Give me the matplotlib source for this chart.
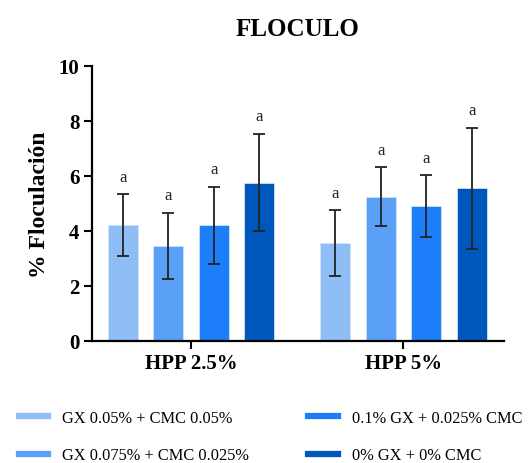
import matplotlib
matplotlib.use("Agg")
import matplotlib.pyplot as plt
from matplotlib.lines import Line2D
import numpy as np

plt.rcParams['font.family'] = ['Liberation Serif', 'DejaVu Serif']

groups = ["HPP 2.5%", "HPP 5%"]
series = ["GX 0.05% + CMC 0.05%", "GX 0.075% + CMC 0.025%",
          "0.1% GX + 0.025% CMC", "0% GX + 0% CMC"]
colors = ["#8fbdf5", "#5aa0f6", "#1c7ef8", "#0057bb"]
means = [[4.2, 3.45, 4.2, 5.75],
         [3.55, 5.25, 4.9, 5.55]]
errs = [[1.13, 1.2, 1.4, 1.77],
        [1.2, 1.06, 1.12, 2.2]]
letters = [["a", "a", "a", "a"], ["a", "a", "a", "a"]]

fig = plt.figure(figsize=(5.31, 4.64), dpi=100)
ax = fig.add_axes([0.173, 0.263, 0.776, 0.593])

spacing = 0.214
width = 0.142
x = np.arange(len(groups))
for i in range(len(series)):
    off = (i - 1.5) * spacing
    vals = [means[g][i] for g in range(len(groups))]
    er = [errs[g][i] for g in range(len(groups))]
    ax.bar(x + off, vals, width, color=colors[i], edgecolor="#cfe2fb",
           linewidth=0.6, zorder=2)
    ax.errorbar(x + off, vals, yerr=er, fmt="none", ecolor="#222222",
                elinewidth=1.3, capsize=4.5, capthick=1.3, zorder=3)
    for g in range(len(groups)):
        ax.text(x[g] + off, vals[g] + er[g] + 0.35, letters[g][i],
                ha="center", va="bottom", fontsize=12, color="#222222")

ax.set_xlim(-0.466, 1.473)
ax.set_ylim(0, 10)
ax.set_yticks([0, 2, 4, 6, 8, 10])
ax.set_xticks(x)
ax.set_xticklabels(groups, fontsize=15, fontweight="bold")
for lab in ax.get_yticklabels():
    lab.set_fontweight("bold")
    lab.set_fontsize(15)
ax.tick_params(axis="both", direction="out", length=6, width=1.5, pad=3)
ax.spines["top"].set_visible(False)
ax.spines["right"].set_visible(False)
ax.spines["left"].set_linewidth(1.6)
ax.spines["bottom"].set_linewidth(1.6)
ax.set_ylabel("% Floculación", fontsize=17, fontweight="bold", labelpad=6)
ax.set_title("FLOCULO", fontsize=18, fontweight="bold", pad=22)

handles = [Line2D([0], [0], color=c, lw=4.5) for c in colors]
fig.legend(handles, series, loc="upper left", bbox_to_anchor=(0.008, 0.146),
           ncol=2, frameon=False, fontsize=11.8, handlelength=1.8,
           handletextpad=0.85, columnspacing=3.6, labelspacing=1.3)

fig.savefig("out.png", dpi=100)
